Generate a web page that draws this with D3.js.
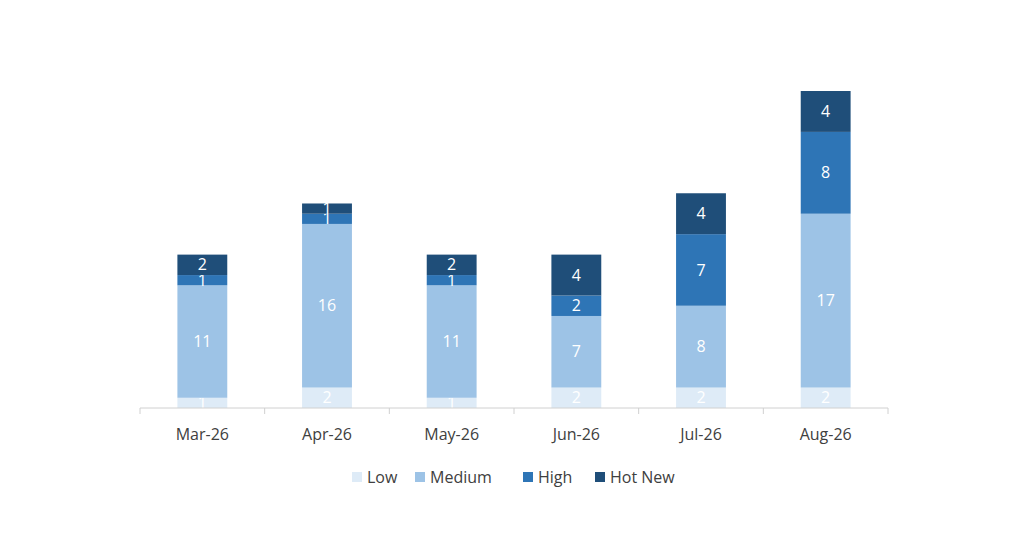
<!DOCTYPE html>
<html><head><meta charset="utf-8">
<script src="https://cdn.jsdelivr.net/npm/d3@7"></script>
<style>body{margin:0;background:#fff}text{font-family:"Open Sans",Calibri,sans-serif}</style>
</head><body><svg id="c" width="1024" height="538"></svg>
<script>
const categories=["Mar-26","Apr-26","May-26","Jun-26","Jul-26","Aug-26"];
const seriesNames=["Low","Medium","High","Hot New"];
const low=[1,2,1,2,2,2];
const medium=[11,16,11,7,8,17];
const high=[1,1,1,2,7,8];
const hotNew=[2,1,2,4,4,4];
const colors=["#deebf7","#9dc3e6","#2e75b6","#1f4e79"];
const svg=d3.select("#c");
const x=d3.scaleBand().domain(categories).range([140,888]).paddingInner(0.6).paddingOuter(0.3);
const y=d3.scaleLinear().domain([0,31]).range([408,91]);
const rows=categories.map((c,i)=>({cat:c,Low:low[i],Medium:medium[i],High:high[i],"Hot New":hotNew[i]}));
const stack=d3.stack().keys(seriesNames)(rows);
stack.forEach((s,k)=>{
  const g=svg.append("g");
  g.selectAll("rect").data(s).join("rect")
   .attr("x",d=>x(d.data.cat)).attr("width",x.bandwidth())
   .attr("y",d=>y(d[1])).attr("height",d=>y(d[0])-y(d[1])).attr("fill",colors[k]);
  g.selectAll("text").data(s).join("text")
   .attr("x",d=>x(d.data.cat)+x.bandwidth()/2).attr("y",d=>(y(d[0])+y(d[1]))/2)
   .attr("dy","0.35em").attr("text-anchor","middle").attr("fill","#fff").attr("font-size",16)
   .text(d=>d[1]-d[0]);
});
svg.append("line").attr("x1",140).attr("x2",888).attr("y1",408).attr("y2",408).attr("stroke","#d0d0d0");
const step=(888-140)/6;
for(let i=0;i<=6;i++)svg.append("line").attr("x1",140+i*step).attr("x2",140+i*step).attr("y1",408).attr("y2",414).attr("stroke","#d0d0d0");
svg.selectAll(".tl").data(categories).join("text").attr("x",d=>x(d)+x.bandwidth()/2).attr("y",440)
 .attr("text-anchor","middle").attr("font-size",16).attr("fill","#404040").text(d=>d);
const lx=[352,415,523,595];
seriesNames.forEach((n,k)=>{
  svg.append("rect").attr("x",lx[k]).attr("y",472).attr("width",10).attr("height",10).attr("fill",colors[k]);
  svg.append("text").attr("x",lx[k]+15).attr("y",483).attr("font-size",16).attr("fill","#404040").text(n);
});
</script></body></html>
